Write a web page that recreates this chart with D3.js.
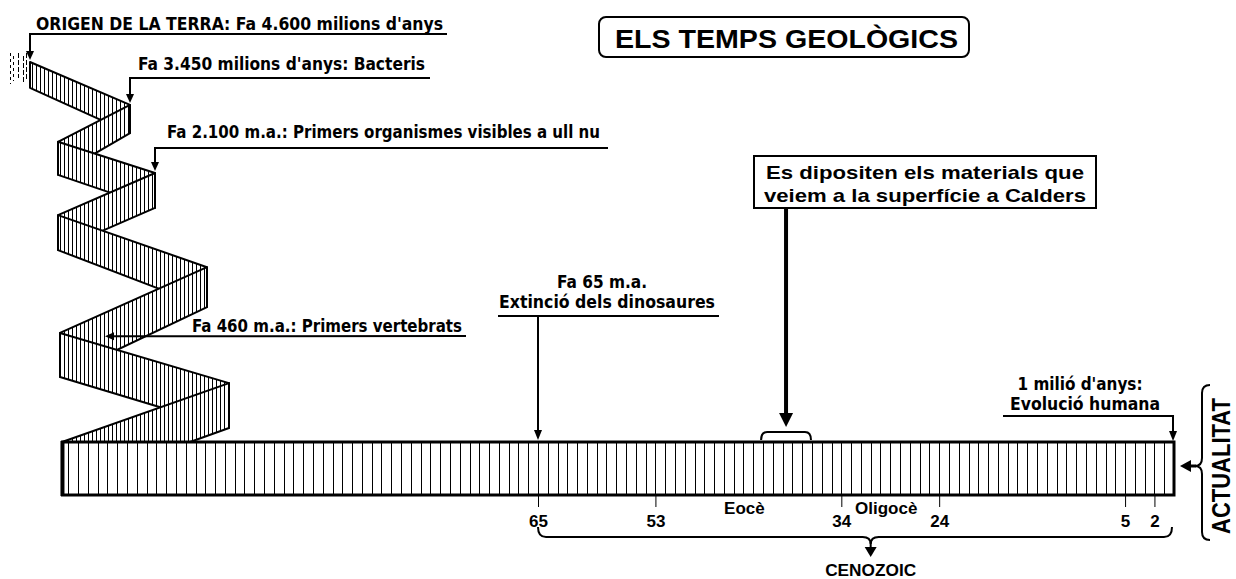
<!DOCTYPE html>
<html>
<head>
<meta charset="utf-8">
<script src="https://cdn.jsdelivr.net/npm/d3@7"></script>
<style>
  body { margin: 0; background: #fff; }
  text { font-family: "Liberation Sans Narrow", "DejaVu Sans Condensed", "Liberation Sans", Arial, sans-serif; font-weight: bold; fill: #000; }
  .wide { font-family: "Liberation Sans", Arial, sans-serif; }
  .hatch { shape-rendering: crispEdges; }
</style>
</head>
<body>
<script>
// ---- data (millions of years ago) ----
const ticks = [65, 53, 34, 24, 5, 2]
const epochNames = ['Eocè', 'Oligocè']
const epochFrom = [53, 34]
const epochTo = [34, 24]
const eraName = 'CENOZOIC'
const eraFrom = 65
const eraTo = 0
const eraMark = 31
const barFrom = 113.6          // oldest age on the straight bar
const extinction = 65
const caldersFrom = 42.2
const caldersTo = 37.1
const human = 0.1

// folded ribbon for the older history (abstract 0-100 units)
const foldSwing = [0, 50, 14, 62.5, 14, 88.5, 15, 99.5, 16]
const foldDepth = [0, 11.3, 21, 29.2, 40.3, 54, 71.3, 84.5, 100]
const foldBand = [6.8, 7.4, 8.7, 9.2, 9.2, 10.5, 11.6, 11.8, 12.1]

const zigLabels = [
  "ORIGEN DE LA TERRA: Fa 4.600 milions d'anys",
  "Fa 3.450 milions d'anys: Bacteris",
  'Fa 2.100 m.a.: Primers organismes visibles a ull nu',
  'Fa 460 m.a.: Primers vertebrats'
]
const zigAt = [0, 1, 3, 5.694]
const zigInBand = [0, 0, 0, 0.55]

const title = 'ELS TEMPS GEOLÒGICS'
const extinctionText = ['Fa 65 m.a.', 'Extinció dels dinosaures']
const caldersText = ['Es dipositen els materials que', 'veiem a la superfície a Calders']
const humanText = ["1 milió d'anys:", 'Evolució humana']
const nowText = 'ACTUALITAT'

// ---- layout ----
const width = 1236, height = 579
const barTop = 442, barBottom = 495
const zigLineY = [34, 78, 148, 336]
const zigLineEnd = [447, 430, 608, 466]
const zigTextX = [36, 138, 167, 192]
const zigTextY = [30, 70, 138, 332]
const zigTextW = [407, 287, 433, 270]

const svg = d3.select('body').append('svg')
  .attr('width', width).attr('height', height)
svg.append('rect').attr('width', width).attr('height', height).attr('fill', '#fff')
const defs = svg.append('defs')

const x = d3.scaleLinear().domain([65, 0]).range([538, 1174])
const zx = d3.scaleLinear().domain([0, 100]).range([30, 230])
const zy = d3.scaleLinear().domain([0, 100]).range([62, 442])
const band = d3.scaleLinear().domain([0, 100]).range([0, 380])

const line = (x1, y1, x2, y2, w = 2) => svg.append('line')
  .attr('x1', x1).attr('y1', y1).attr('x2', x2).attr('y2', y2)
  .attr('stroke', '#000').attr('stroke-width', w)

// line ending with a filled arrow head at (x2, y2)
const arrow = (x1, y1, x2, y2, w = 2, len = 10, half = 4) => {
  const a = Math.atan2(y2 - y1, x2 - x1)
  const bx = x2 - len * Math.cos(a), by = y2 - len * Math.sin(a)
  line(x1, y1, bx, by, w)
  const px = -Math.sin(a) * half, py = Math.cos(a) * half
  svg.append('path')
    .attr('d', `M${x2},${y2}L${bx + px},${by + py}L${bx - px},${by - py}Z`)
    .attr('fill', '#000')
}

const label = (str, tx, ty, len, size, anchor = 'start', cls = null) => {
  const t = svg.append('text').attr('x', tx).attr('y', ty)
    .attr('font-size', size).attr('text-anchor', anchor).text(str)
  if (len) t.attr('textLength', len).attr('lengthAdjust', 'spacingAndGlyphs')
  if (cls) t.attr('class', cls)
  return t
}

// ---- faded marks before the origin ----
;[10, 13, 18, 23, 26].forEach((d, i) => {
  line(d, 53 + (i % 2) * 3, d, 84 - (i % 3) * 3, 1)
    .attr('stroke-dasharray', i < 2 ? '3,3' : '5,2').attr('class', 'hatch')
})

// ---- folded ribbon ----
const folds = foldSwing.map((s, i) => ({ x: zx(s), y: zy(foldDepth[i]), h: band(foldBand[i]) }))
d3.pairs(folds).forEach(([a, b], i) => {
  const poly = [[a.x, a.y], [b.x, b.y], [b.x, b.y + b.h], [a.x, a.y + a.h]]
  const id = 'panel' + i
  defs.append('clipPath').attr('id', id).append('polygon').attr('points', poly.join(' '))
  const g = svg.append('g')
  g.append('polygon').attr('points', poly.join(' ')).attr('fill', '#fff')
  const x0 = Math.min(a.x, b.x), x1 = Math.max(a.x, b.x)
  const y0 = Math.min(a.y, b.y), y1 = Math.max(a.y + a.h, b.y + b.h)
  g.append('g').attr('clip-path', `url(#${id})`)
    .selectAll('line').data(d3.range(Math.ceil(x0 / 4) * 4 + 0.5, x1, 4)).join('line')
    .attr('class', 'hatch')
    .attr('x1', d => d).attr('x2', d => d).attr('y1', y0).attr('y2', y1)
    .attr('stroke', '#000').attr('stroke-width', 1)
  g.append('polygon').attr('points', poly.join(' '))
    .attr('fill', 'none').attr('stroke', '#000').attr('stroke-width', 2)
    .attr('stroke-linejoin', 'round')
})

// ---- straight bar (last 114 million years) ----
svg.append('rect')
  .attr('x', x(barFrom)).attr('y', barTop)
  .attr('width', x(0) - x(barFrom)).attr('height', barBottom - barTop)
  .attr('fill', '#fff')
svg.append('g')
  .selectAll('line').data(d3.range(1, Math.floor(barFrom) + 1)).join('line')
  .attr('class', 'hatch')
  .attr('x1', d => Math.round(x(d)) + 0.5).attr('x2', d => Math.round(x(d)) + 0.5)
  .attr('y1', barTop).attr('y2', barBottom)
  .attr('stroke', '#000').attr('stroke-width', 1)
svg.append('rect')
  .attr('x', x(barFrom)).attr('y', barTop)
  .attr('width', x(0) - x(barFrom)).attr('height', barBottom - barTop)
  .attr('fill', 'none').attr('stroke', '#000').attr('stroke-width', 3)
line(x(barFrom), barTop - 1, x(barFrom), barBottom + 1, 4)

// ---- axis ----
const axis = d3.axisBottom(x).tickValues(ticks).tickSize(12).tickFormat(d3.format('d'))
svg.append('g').attr('transform', `translate(0,${barBottom})`)
  .call(axis)
  .call(g => g.select('.domain').remove())
  .call(g => g.attr('font-family', null).attr('font-size', null))
  .call(g => g.selectAll('.tick line').attr('stroke', '#000').attr('stroke-width', 1))
  .call(g => g.selectAll('.tick text').attr('dy', null).attr('y', 32)
    .attr('font-size', 17).attr('class', 'wide').attr('fill', '#000'))

// epochs
epochNames.forEach((n, i) => {
  label(n, x((epochFrom[i] + epochTo[i]) / 2) - 4, 514, null, 17, 'middle', 'wide')
})

// era brace
const bl = x(eraFrom), br = x(eraTo) - 2, bm = x(eraMark), by = 537
svg.append('path')
  .attr('d', `M${bl},527 Q${bl},${by} ${bl + 8},${by} H${bm - 8} Q${bm},${by} ${bm},${by + 7}` +
    ` Q${bm},${by} ${bm + 8},${by} H${br - 8} Q${br},${by} ${br},527`)
  .attr('fill', 'none').attr('stroke', '#000').attr('stroke-width', 2)
arrow(bm, by + 5, bm, 557, 2, 10, 6)
label(eraName, bm, 576, 91, 16, 'middle', 'wide')

// ---- zig labels ----
zigLabels.forEach((str, i) => {
  const k = Math.floor(zigAt[i]), t = zigAt[i] - k
  const a = folds[k], b = folds[Math.min(k + 1, folds.length - 1)]
  const tx = a.x + t * (b.x - a.x)
  const ty = a.y + t * (b.y - a.y) + zigInBand[i] * (a.h + t * (b.h - a.h))
  if (zigInBand[i] > 0) {
    arrow(zigLineEnd[i], zigLineY[i], tx, ty, 2, 9, 4)
  } else {
    line(tx - 1, zigLineY[i], zigLineEnd[i], zigLineY[i])
    arrow(tx, zigLineY[i], tx, ty - 2, 2, 9, 4)
  }
  label(str, zigTextX[i], zigTextY[i], zigTextW[i], 17)
})

// ---- extinction ----
label(extinctionText[0], 602, 288, 90, 17, 'middle')
label(extinctionText[1], 607, 308, 216, 17, 'middle')
line(498, 316, 719, 316)
arrow(x(extinction), 316, x(extinction), barTop - 2, 2, 10, 4)

// ---- Calders deposits ----
svg.append('rect').attr('x', 754).attr('y', 156).attr('width', 342).attr('height', 52)
  .attr('fill', '#fff').attr('stroke', '#000').attr('stroke-width', 2)
label(caldersText[0], 925, 179, 318, 19, 'middle', 'wide')
label(caldersText[1], 925, 202, 322, 19, 'middle', 'wide')
const cl = x(caldersFrom), cr = x(caldersTo), cm = (cl + cr) / 2
arrow(cm, 208, cm, 427, 4, 14, 7)
svg.append('path')
  .attr('d', `M${cl},440 Q${cl},432 ${cl + 6},432 H${cr - 6} Q${cr},432 ${cr},440`)
  .attr('fill', 'none').attr('stroke', '#000').attr('stroke-width', 2)

// ---- human evolution ----
label(humanText[0], 1080, 390, 125, 17, 'middle')
label(humanText[1], 1085, 410, 150, 17, 'middle')
line(1003, 416, x(human) + 1, 416)
arrow(x(human), 416, x(human), barTop - 1, 2, 10, 4)

// ---- present ----
svg.append('path')
  .attr('d', 'M1210,385 Q1202,385 1202,393 V458 Q1202,466 1195,466 Q1202,466 1202,474 V532 Q1202,540 1210,540')
  .attr('fill', 'none').attr('stroke', '#000').attr('stroke-width', 2)
arrow(1196, 466, 1180, 466, 3, 11, 6)
label(nowText, 0, 0, 136, 26, 'middle', 'wide')
  .attr('transform', 'translate(1230,466) rotate(-90)')

// ---- title ----
svg.append('rect').attr('x', 599).attr('y', 17).attr('width', 370).attr('height', 40)
  .attr('rx', 7).attr('fill', '#fff').attr('stroke', '#000').attr('stroke-width', 2)
label(title, 615, 48, 343, 26, 'start', 'wide')
</script>
</body>
</html>
